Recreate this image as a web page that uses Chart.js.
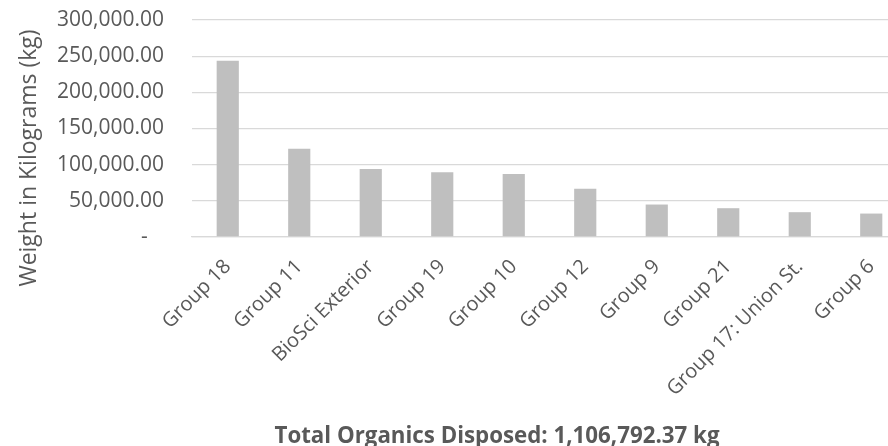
<!DOCTYPE html>
<html>
<head>
<meta charset="utf-8">
<script src="https://cdn.jsdelivr.net/npm/chart.js@4/dist/chart.umd.min.js"></script>
<style>
  html, body { margin: 0; padding: 0; background: #ffffff; overflow: hidden; }
  #wrap { width: 888px; height: 446px; overflow: hidden; }
</style>
</head>
<body>
<div id="wrap"><canvas id="chart" width="908" height="446"></canvas></div>
<script>
// Organics disposed per collection group (kg)
const categories = [
  'Group 18', 'Group 11', 'BioSci Exterior', 'Group 19', 'Group 10',
  'Group 12', 'Group 9', 'Group 21', 'Group 17: Union St.', 'Group 6'
];
const weightsKg = [243500, 122000, 94000, 89400, 87000, 66700, 44900, 39800, 34300, 32400];
const yTickValues = [0, 50000, 100000, 150000, 200000, 250000, 300000];
const yAxisTitle = 'Weight in Kilograms (kg)';
const totalTitle = 'Total Organics Disposed: 1,106,792.37 kg';

const TEXT = '#595959';
const GRID = '#d9d9d9';
const FONT = '"Open Sans", Lato, sans-serif';

function formatKg(v) {
  if (v === 0) return '-   ';
  return v.toLocaleString('en-US', { minimumFractionDigits: 2, maximumFractionDigits: 2 });
}

// Axis titles placed beside and below the plot
const axisTitles = {
  id: 'axisTitles',
  afterDraw(chart) {
    const ctx = chart.ctx;
    ctx.save();
    ctx.fillStyle = TEXT;
    ctx.font = '23px ' + FONT;
    ctx.textAlign = 'center';
    ctx.textBaseline = 'alphabetic';
    ctx.translate(36, 158);
    ctx.rotate(-Math.PI / 2);
    ctx.fillText(yAxisTitle, 0, 0);
    ctx.restore();

    ctx.save();
    ctx.fillStyle = TEXT;
    ctx.font = 'bold 22.3px ' + FONT;
    ctx.textAlign = 'center';
    ctx.textBaseline = 'alphabetic';
    ctx.fillText(totalTitle, 497, 443);
    ctx.restore();
  }
};

new Chart(document.getElementById('chart'), {
  type: 'bar',
  data: {
    labels: categories,
    datasets: [{
      data: weightsKg,
      backgroundColor: '#bfbfbf',
      borderWidth: 0,
      categoryPercentage: 1,
      barPercentage: 0.31
    }]
  },
  options: {
    responsive: false,
    animation: false,
    devicePixelRatio: 1,
    layout: { padding: { top: 20, right: 1, left: 0, bottom: 0 } },
    plugins: {
      legend: { display: false },
      tooltip: { enabled: false }
    },
    scales: {
      x: {
        grid: { display: false },
        border: { display: true, color: GRID, width: 1.3 },
        ticks: {
          color: TEXT,
          font: { family: FONT, size: 20 },
          minRotation: 45,
          maxRotation: 45,
          autoSkip: false,
          padding: 10
        },
        afterFit(scale) { scale.height = 209; }
      },
      y: {
        min: 0,
        max: 300000,
        afterBuildTicks(scale) { scale.ticks = yTickValues.map(v => ({ value: v })); },
        grid: { color: GRID, lineWidth: 1.3, drawTicks: false },
        border: { display: false },
        ticks: {
          color: TEXT,
          font: { family: FONT, size: 21 },
          padding: 28,
          callback: (v) => formatKg(v)
        },
        afterFit(scale) {
          scale.width = 192;
          scale.paddingTop = 0;
          scale.paddingBottom = 0;
        }
      }
    }
  },
  plugins: [axisTitles]
});
</script>
</body>
</html>
